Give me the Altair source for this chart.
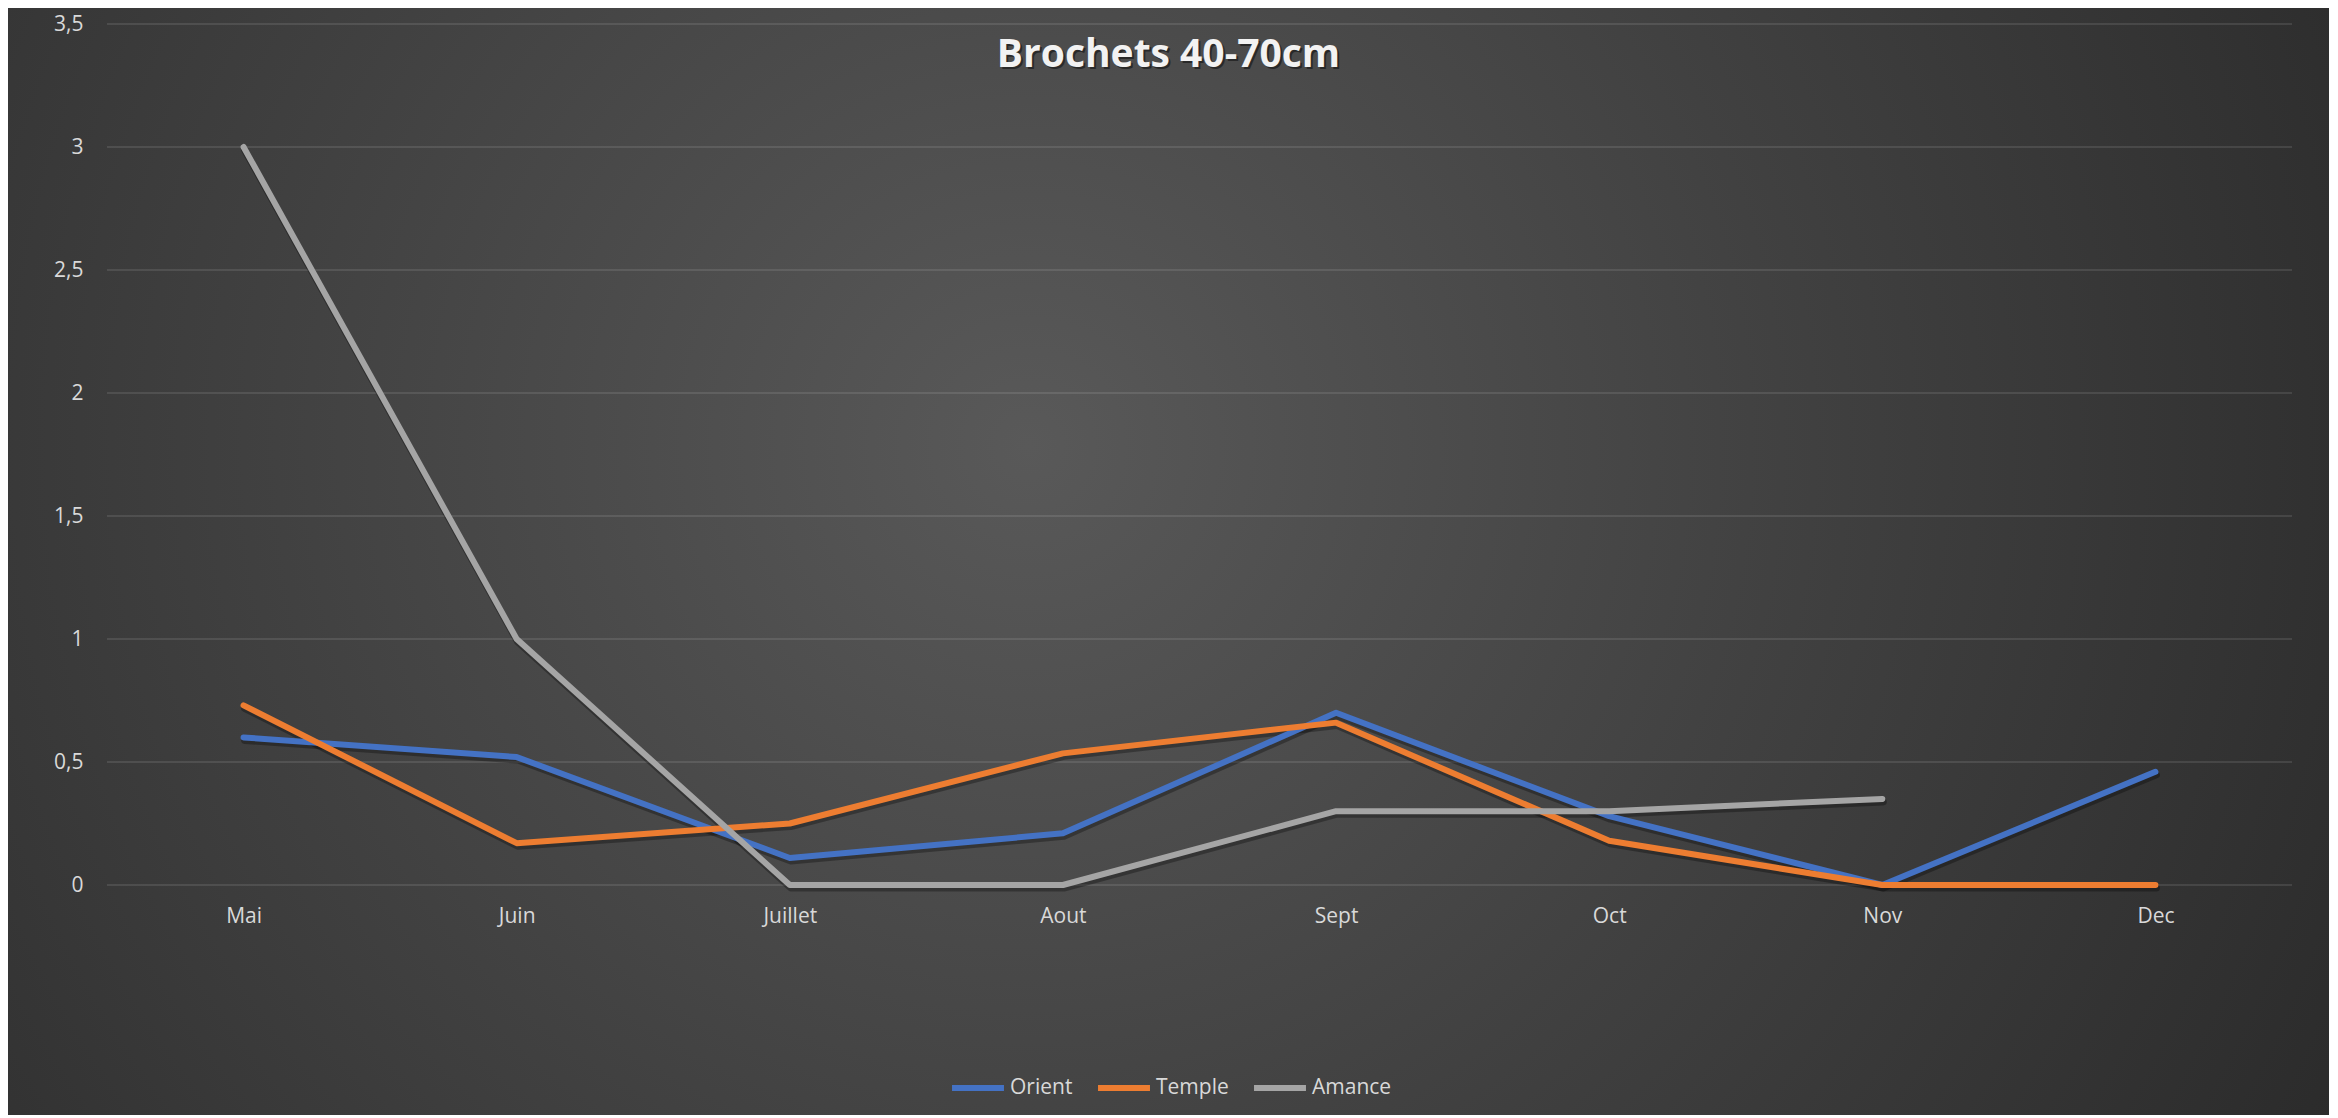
import altair as alt
import pandas as pd

# ---- data ----
months = ["Mai", "Juin", "Juillet", "Aout", "Sept", "Oct", "Nov", "Dec"]
series_names = ["Orient", "Temple", "Amance"]
orient = [0.60, 0.52, 0.11, 0.21, 0.70, 0.28, 0.00, 0.46]
temple = [0.73, 0.17, 0.25, 0.535, 0.66, 0.18, 0.00, 0.00]
amance = [3.00, 1.00, 0.00, 0.00, 0.30, 0.30, 0.35, None]
series_colors = ["#4472C4", "#ED7D31", "#A5A5A5"]
y_ticks = [0, 0.5, 1, 1.5, 2, 2.5, 3, 3.5]
title_text = "Brochets 40-70cm"

rows = []
for name, vals in zip(series_names, [orient, temple, amance]):
    for m, v in zip(months, vals):
        rows.append({"month": m, "series": name, "value": v})
df = pd.DataFrame(rows)

W, H = 2185, 861
PAD = {"left": 99, "top": 16, "right": 37, "bottom": 230}
FONT = "Open Sans"

x_enc = alt.X("month:N", sort=months, scale=alt.Scale(type="point", padding=0.5),
              axis=alt.Axis(title=None, ticks=False, domain=False, grid=False,
                            labelFontSize=21, labelColor="#d9d9d9", labelFont=FONT,
                            labelPadding=20, labelAngle=0, zindex=1))
y_scale = alt.Scale(domain=[0, 3.5], nice=False, zero=True)
y_axis = alt.Axis(title=None, ticks=False, domain=False, grid=False,
                  values=y_ticks, labelFontSize=21, labelColor="#d9d9d9",
                  labelFont=FONT, labelPadding=24, zindex=1,
                  labelExpr="replace(format(datum.value, '~g'), '.', ',')")
y_enc = alt.Y("value:Q", scale=y_scale, axis=y_axis)

# background radial gradient covering the whole canvas
bg = alt.Chart(alt.Data(values=[{"a": 1}])).mark_rect(
    color={"gradient": "radial",
           "x1": 0.44, "y1": 0.45, "r1": 0.0,
           "x2": 0.44, "y2": 0.45, "r2": 0.72,
           "stops": [{"offset": 0, "color": "#595959"},
                     {"offset": 0.45, "color": "#414141"},
                     {"offset": 1, "color": "#252525"}]}
).encode(
    x=alt.value(-PAD["left"]), x2=alt.value(W + PAD["right"]),
    y=alt.value(-PAD["top"]), y2=alt.value(H + PAD["bottom"])
)

grid = alt.Chart(pd.DataFrame({"value": y_ticks})).mark_rule(
    color="white", opacity=0.1, strokeWidth=2
).encode(y=y_enc)

shadow = alt.Chart(df).mark_line(
    color="black", opacity=0.3, strokeWidth=7, strokeCap="round",
    strokeJoin="round", yOffset=3, xOffset=1
).encode(x=x_enc, y=y_enc, detail="series:N")

lines = alt.Chart(df).mark_line(
    strokeWidth=6, strokeCap="round", strokeJoin="round"
).encode(
    x=x_enc, y=y_enc,
    color=alt.Color("series:N",
                    scale=alt.Scale(domain=series_names, range=series_colors),
                    legend=alt.Legend(title=None, orient="none", direction="horizontal",
                                      legendX=842, legendY=1035,
                                      symbolType="stroke", symbolSize=2700,
                                      symbolStrokeWidth=6, labelFontSize=21,
                                      labelColor="#d9d9d9", labelFont=FONT,
                                      labelOffset=3, columnPadding=13, padding=0))
)

title_df = pd.DataFrame({"t": [title_text]})
title_shadow = alt.Chart(title_df).mark_text(
    font=FONT, fontSize=39, fontWeight="bold", color="black", opacity=0.45,
    baseline="middle", align="center"
).encode(text="t:N", x=alt.value(1061.5 + 2), y=alt.value(31 + 2))
title = alt.Chart(title_df).mark_text(
    font=FONT, fontSize=39, fontWeight="bold", color="#f2f2f2",
    baseline="middle", align="center"
).encode(text="t:N", x=alt.value(1061.5), y=alt.value(31))

chart = alt.layer(bg, grid, shadow, lines, title_shadow, title).properties(
    width=W, height=H, padding=PAD,
    autosize=alt.AutoSizeParams(type="none"),
    background="#2a2a2a"
).configure_view(strokeWidth=0)

chart.save("out.html", embed_options={"renderer": "svg", "actions": False})
